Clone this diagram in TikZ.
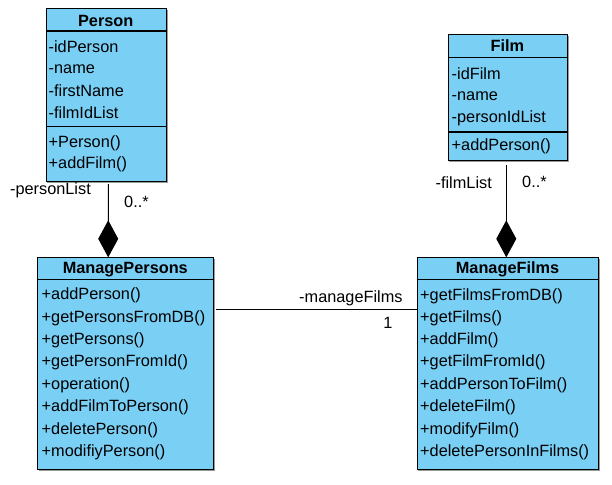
\documentclass[tikz,border=0pt]{standalone}
\usepackage{fontspec}
\setmainfont{Liberation Sans}
\usetikzlibrary{arrows.meta,calc}
\definecolor{umlblue}{RGB}{122,207,245}
\tikzset{
  umlbox/.style={draw=black, line width=1.1pt, fill=umlblue},
  umlshadow/.style={draw=black!40, line width=0.9pt},
  sepline/.style={line width=1.1pt},
  member/.style={anchor=west, inner sep=0pt, font=\fontsize{16.3}{18}\selectfont},
  title/.style={inner sep=0pt, font=\fontsize{16.3}{18}\selectfont\bfseries},
  lbl/.style={inner sep=0pt, font=\fontsize{16.3}{18}\selectfont},
  comp/.style={line width=1pt, -{Diamond[length=37pt,width=20pt]}},
  assoc/.style={line width=1pt}
}
\begin{document}
\begin{tikzpicture}[x=1pt,y=-1pt]
\useasboundingbox (0,0) rectangle (612,484);
% shadows
\draw[umlshadow] (47,182.5) -- (167.2,182.5) -- (167.2,10);
\draw[umlshadow] (449,161.5) -- (568.5,161.5) -- (568.5,36);
\draw[umlshadow] (39,470.8) -- (214.8,470.8) -- (214.8,259);
\draw[umlshadow] (418,470.8) -- (599.8,470.8) -- (599.8,259);
% Person
\node[umlbox, inner sep=0pt, minimum width=120pt, minimum height=172.7pt, anchor=north west] (person) at (45.7,8.3) {};
\draw[sepline] (45.7,31) -- (165.7,31);
\draw[sepline] (45.7,126.7) -- (165.7,126.7);
\node[title] (personT) at (105.7,20.5) {Person};
\node[member] (p1) at (48.5,46.7) {-idPerson};
\node[member] (p2) at (48.5,68.7) {-name};
\node[member] (p3) at (48.5,90.7) {-firstName};
\node[member] (p4) at (48.5,113) {-filmIdList};
\node[member] (p5) at (48.5,143) {+Person()};
\node[member] (p6) at (48.5,164.3) {+addFilm()};
% Film
\node[umlbox, inner sep=0pt, minimum width=119.3pt, minimum height=125.7pt, anchor=north west] (film) at (447.7,34.3) {};
\draw[sepline] (447.7,57.7) -- (567,57.7);
\draw[sepline] (447.7,132) -- (567,132);
\node[title] (filmT) at (507.3,45.5) {Film};
\node[member] (f1) at (451.5,73.3) {-idFilm};
\node[member] (f2) at (451.5,95.7) {-name};
\node[member] (f3) at (451.5,118.3) {-personIdList};
\node[member] (f4) at (451.5,146.7) {+addPerson()};
% ManagePersons
\node[umlbox, inner sep=0pt, minimum width=176pt, minimum height=212pt, anchor=north west] (mp) at (37.3,257.3) {};
\draw[sepline] (37.3,279.3) -- (213.3,279.3);
\node[title] (mpT) at (125.3,269.5) {ManagePersons};
\node[member] (mp1) at (41.5,295.3) {+addPerson()};
\node[member] (mp2) at (41.5,317.9) {+getPersonsFromDB()};
\node[member] (mp3) at (41.5,340.3) {+getPersons()};
\node[member] (mp4) at (41.5,362.7) {+getPersonFromId()};
\node[member] (mp5) at (41.5,385.5) {+operation()};
\node[member] (mp6) at (41.5,407.5) {+addFilmToPerson()};
\node[member] (mp7) at (41.5,430.3) {+deletePerson()};
\node[member] (mp8) at (41.5,452.3) {+modifiyPerson()};
% ManageFilms
\node[umlbox, inner sep=0pt, minimum width=181.6pt, minimum height=212pt, anchor=north west] (mf) at (416.7,257.3) {};
\draw[sepline] (416.7,279.3) -- (598.3,279.3);
\node[title] (mfT) at (507.5,269.5) {ManageFilms};
\node[member] (mf1) at (420,295.8) {+getFilmsFromDB()};
\node[member] (mf2) at (420,318.2) {+getFilms()};
\node[member] (mf3) at (420,340.3) {+addFilm()};
\node[member] (mf4) at (420,362.7) {+getFilmFromId()};
\node[member] (mf5) at (420,385.2) {+addPersonToFilm()};
\node[member] (mf6) at (420,407.6) {+deleteFilm()};
\node[member] (mf7) at (420,430) {+modifyFilm()};
\node[member] (mf8) at (420,452.3) {+deletePersonInFilms()};
% connectors
\draw[comp] ([xshift=62.6pt,yshift=-2pt]person.south west) -- ([xshift=70.9pt]mp.north west);
\draw[comp] ([xshift=58.6pt,yshift=-4pt]film.south west) -- ([xshift=89.6pt]mf.north west);
\draw[assoc] ([xshift=2pt,yshift=-51.7pt]mp.north east) -- ([yshift=-51.7pt]mf.north west);
% labels
\node[lbl, anchor=east] (l1) at (91,190.5) {-personList};
\node[lbl, anchor=west] (l2) at (124,201.5) {0..*};
\node[lbl, anchor=east] (l3) at (492,182.3) {-filmList};
\node[lbl, anchor=west] (l4) at (522,182.3) {0..*};
\node[lbl, anchor=east] (l5) at (402.7,298) {-manageFilms};
\node[lbl] (l6) at (388,323) {1};
\end{tikzpicture}
\end{document}
